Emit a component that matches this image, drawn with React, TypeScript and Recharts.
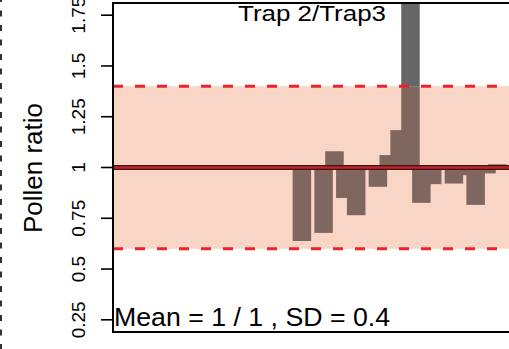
import React from 'react';
import {
  ComposedChart,
  Bar,
  XAxis,
  YAxis,
  ReferenceArea,
  ReferenceLine,
  Customized,
} from 'recharts';

// Daily pollen ratio between the two traps (null = no sample that day)
const days = [0, 1, 2, 3, 4, 5, 6, 7, 8, 9, 10, 11, 12, 13, 14, 15, 16, 17, 18];
const ratios: (number | null)[] = [
  0.638, null, 0.678, 1.08, 0.85, 0.765, null, 0.905, 1.061, 1.184, 2.4,
  0.826, 0.918, null, 0.921, 0.962, 0.816, 0.971, 1.016,
];
const yTicks = [0.25, 0.5, 0.75, 1, 1.25, 1.5, 1.75];
const MEAN = 1;
const SD = 0.4;
const TITLE = 'Trap 2/Trap3';
const SUMMARY = 'Mean = 1 / 1 , SD = 0.4';
const Y_LABEL = 'Pollen ratio';

const Y_DOMAIN: [number, number] = [0.19, 1.81];
const X_DOMAIN: [number, number] = [-17.38, 19.64];

const LO = MEAN - SD;
const HI = MEAN + SD;

const rows = days.map((day, i) => {
  const v = ratios[i];
  if (v == null) return { day, inner: null, outer: null };
  const clamped = Math.min(HI, Math.max(LO, v));
  let outer: [number, number] | null = null;
  if (v > HI) outer = [HI, v];
  else if (v < LO) outer = [LO, v];
  return { day, inner: [MEAN, clamped] as [number, number], outer };
});

const FONT = '"Liberation Sans", Arial, Helvetica, sans-serif';
const BAR_W = 18.5;

// Bars are wider than the day spacing, so neighbouring days overlap
const WideBar = (props: any) => {
  const { x, y, width, height, fill } = props;
  if (x == null || y == null || !isFinite(height)) return null;
  const cx = x + width / 2;
  const top = Math.min(y, y + height);
  const h = Math.abs(height);
  return <rect x={cx - BAR_W / 2} y={top} width={BAR_W} height={h} fill={fill} />;
};

const RotTick = (props: any) => {
  const { x, y, payload } = props;
  return (
    <text
      x={x}
      y={y}
      transform={`rotate(-90, ${x}, ${y})`}
      textAnchor="middle"
      fontFamily={FONT}
      fontSize={19}
      fill="#000"
    >
      {payload.value}
    </text>
  );
};

const Annotations = () => (
  <g fontFamily={FONT} fill="#000">
    <line x1={1} y1={0} x2={1} y2={349} stroke="#000" strokeWidth={1.6} strokeDasharray="6 8.5" strokeDashoffset={4} />
    <text
      x={41.5}
      y={168}
      transform="rotate(-90, 41.5, 168)"
      textAnchor="middle"
      fontSize={26}
      textLength={130}
      lengthAdjust="spacingAndGlyphs"
    >
      {Y_LABEL}
    </text>
    <text x={312} y={21} textAnchor="middle" fontSize={22} textLength={148} lengthAdjust="spacingAndGlyphs">
      {TITLE}
    </text>
    <text x={114} y={326} textAnchor="start" fontSize={25} textLength={276} lengthAdjust="spacingAndGlyphs">
      {SUMMARY}
    </text>
  </g>
);

export default function App() {
  return (
    <div
      style={{
        position: 'absolute',
        left: 0,
        top: 0,
        width: 509,
        height: 349,
        overflow: 'hidden',
        background: '#fff',
      }}
    >
      <ComposedChart
        width={516}
        height={349}
        data={rows}
        margin={{ top: 3, right: 1, bottom: 17, left: 0 }}
      >
        <XAxis xAxisId="in" dataKey="day" type="number" domain={X_DOMAIN} allowDataOverflow hide />
        <XAxis xAxisId="out" dataKey="day" type="number" domain={X_DOMAIN} allowDataOverflow hide />
        <YAxis
          xAxisId="in"
          type="number"
          domain={Y_DOMAIN}
          allowDataOverflow
          ticks={yTicks}
          interval={0}
          width={113}
          axisLine={false}
          tickLine={{ stroke: '#000', strokeWidth: 1.6 }}
          tickSize={12}
          tickMargin={16}
          tick={<RotTick />}
        />
        <ReferenceArea
          xAxisId="in"
          y1={LO}
          y2={HI}
          fill="#f8d5c5"
          fillOpacity={1}
          stroke="none"
          zIndex={-10}
        />
        <Bar
          xAxisId="in"
          dataKey="inner"
          fill="#7f6760"
          shape={<WideBar />}
          isAnimationActive={false}
          zIndex={300}
        />
        <Bar
          xAxisId="out"
          dataKey="outer"
          fill="#666666"
          shape={<WideBar />}
          isAnimationActive={false}
          zIndex={300}
        />
        <ReferenceLine xAxisId="in" y={LO} stroke="#f0202a" strokeWidth={3} strokeDasharray="10 12" zIndex={500} />
        <ReferenceLine xAxisId="in" y={HI} stroke="#f0202a" strokeWidth={3} strokeDasharray="10 12" zIndex={500} />
        <ReferenceLine xAxisId="in" y={MEAN} stroke="#4a0f10" strokeWidth={5} zIndex={600} />
        <ReferenceLine xAxisId="in" y={MEAN} stroke="#b8262b" strokeWidth={2.6} zIndex={610} />
        <ReferenceArea
          xAxisId="in"
          x1={X_DOMAIN[0]}
          x2={X_DOMAIN[1]}
          y1={Y_DOMAIN[0]}
          y2={Y_DOMAIN[1]}
          fill="none"
          stroke="#000"
          strokeWidth={2}
          zIndex={700}
        />
        <Customized component={<Annotations />} />
      </ComposedChart>
    </div>
  );
}
